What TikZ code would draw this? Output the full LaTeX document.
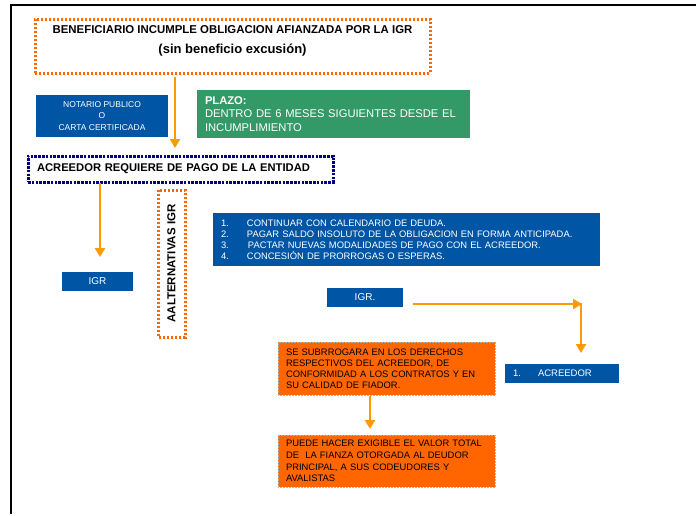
\documentclass[tikz,border=0pt]{standalone}
\usepackage{fontspec}
\setmainfont{Liberation Sans}
\usetikzlibrary{arrows.meta}
\definecolor{igrblue}{HTML}{0055A5}
\definecolor{plazogreen}{HTML}{339966}
\definecolor{notefill}{HTML}{FF6600}
\definecolor{arrowamber}{HTML}{FF9900}
\definecolor{dotorange}{HTML}{FF6600}
\definecolor{dotnavy}{HTML}{000080}
\begin{document}
\begin{tikzpicture}[x=1pt,y=-1pt,
  every node/.style={inner sep=0pt,outer sep=0pt},
  bluebox/.style={anchor=north west,fill=igrblue,text=white},
  notebox/.style={anchor=north west,fill=notefill,text=black,draw=gray!60,densely dotted,line width=0.5pt,
    inner xsep=8pt,align=left,text width=201pt,minimum width=217pt},
  orangedots/.style={draw=dotorange,line width=3pt,dash pattern=on 2.4pt off 1.6pt},
  navydots/.style={draw=dotnavy,line width=3pt,dash pattern=on 2.6pt off 1.2pt},
  flow/.style={draw=arrowamber,line width=2.8pt,-{Triangle[width=10pt,length=9pt]}}]
\useasboundingbox (0,0) rectangle (696,515);

% page frame: top and left rules only
\draw[line width=2.2pt] (696,5) -- (11,5) -- (11,514);

% heading box
\node[orangedots,anchor=north west,minimum width=395pt,minimum height=54pt] (head) at (35,19) {};
\node[font=\fontsize{11.4}{13}\selectfont\bfseries] (headA) at (232.5,30) {BENEFICIARIO INCUMPLE OBLIGACION AFIANZADA POR LA IGR};
\node[font=\fontsize{13}{15}\selectfont\bfseries] (headB) at (232.5,50) {(sin beneficio excusión)};

% notary / deadline
\node[bluebox,minimum width=132pt,minimum height=42pt,align=center,
      font=\fontsize{8.5}{11.7}\selectfont] (notario) at (36,95)
  {NOTARIO PUBLICO\\O\\CARTA CERTIFICADA};
\node[anchor=north west,fill=plazogreen,text=white,minimum width=273pt,minimum height=48pt,
      inner xsep=8pt,text width=257pt,align=left,font=\fontsize{11.2}{13.5}\selectfont] (plazo) at (197,90)
  {\textbf{PLAZO:}\\DENTRO DE 6 MESES SIGUIENTES DESDE EL\\INCUMPLIMIENTO};

% creditor demand
\node[navydots,anchor=north west,minimum width=305pt,minimum height=26pt,
      inner xsep=9pt,text width=287pt,align=left,font=\fontsize{11.2}{13}\selectfont\bfseries] (demanda) at (28,156)
  {ACREEDOR REQUIERE DE PAGO DE LA ENTIDAD};

\coordinate (xa) at (175,0);
\draw[flow,shorten <=4pt,shorten >=8pt] (head.south -| xa) -- (demanda.north -| xa);

% left branch
\node[bluebox,minimum width=71pt,minimum height=19pt,font=\fontsize{10}{12}\selectfont] (igr) at (62,272) {IGR};
\coordinate (xb) at (100,0);
\draw[flow,shorten <=1pt,shorten >=15pt] (demanda.south -| xb) -- (igr.north -| xb);

% alternatives label
\node[orangedots,rotate=90,minimum width=147pt,minimum height=27pt,
      font=\fontsize{11.5}{13}\selectfont\bfseries] (alt) at (171.5,263.5) {AALTERNATIVAS IGR};

% alternatives list
\node[bluebox,minimum width=387pt,minimum height=53pt,inner xsep=8pt,text width=371pt,align=left,
      font=\fontsize{9.4}{11}\selectfont] (lista) at (213,213)
  {\makebox[26pt][l]{1.}CONTINUAR CON CALENDARIO DE DEUDA.\\
   \makebox[26pt][l]{2.}PAGAR SALDO INSOLUTO DE LA OBLIGACION EN FORMA ANTICIPADA.\\
   \makebox[26pt][l]{3.}\hspace{1pt}PACTAR NUEVAS MODALIDADES DE PAGO CON EL ACREEDOR.\\
   \makebox[26pt][l]{4.}CONCESIÓN DE PRORROGAS O ESPERAS.};

% right branch
\node[bluebox,minimum width=76pt,minimum height=19pt,font=\fontsize{10}{12}\selectfont] (igrb) at (327,288) {IGR.};
\node[bluebox,minimum width=114pt,minimum height=19pt,inner xsep=8pt,text width=98pt,align=left,
      font=\fontsize{9.5}{11}\selectfont] (acreedor) at (505,364) {\makebox[25pt][l]{1.}ACREEDOR};
\coordinate (bend) at (581,304);
\draw[flow,shorten <=10pt] (igrb.east |- bend) -- ([xshift=1pt]bend);
\draw[flow,shorten >=11pt] ([yshift=1pt]bend) -- (acreedor.north -| bend);

% subrogation notes
\node[notebox,minimum height=53pt,font=\fontsize{9.4}{11}\selectfont] (subroga) at (278,342)
  {SE SUBRROGARA EN LOS DERECHOS\\RESPECTIVOS DEL ACREEDOR, DE\\CONFORMIDAD A LOS CONTRATOS Y EN\\SU CALIDAD DE FIADOR.};
\node[notebox,minimum height=52pt,font=\fontsize{9.4}{11.7}\selectfont] (exigible) at (278,435)
  {PUEDE HACER EXIGIBLE EL VALOR TOTAL\\DE\ \ LA FIANZA OTORGADA AL DEUDOR\\PRINCIPAL, A SUS CODEUDORES Y\\AVALISTAS};
\coordinate (xc) at (370,0);
\draw[flow,shorten <=1pt,shorten >=6pt] (subroga.south -| xc) -- (exigible.north -| xc);
\end{tikzpicture}
\end{document}
